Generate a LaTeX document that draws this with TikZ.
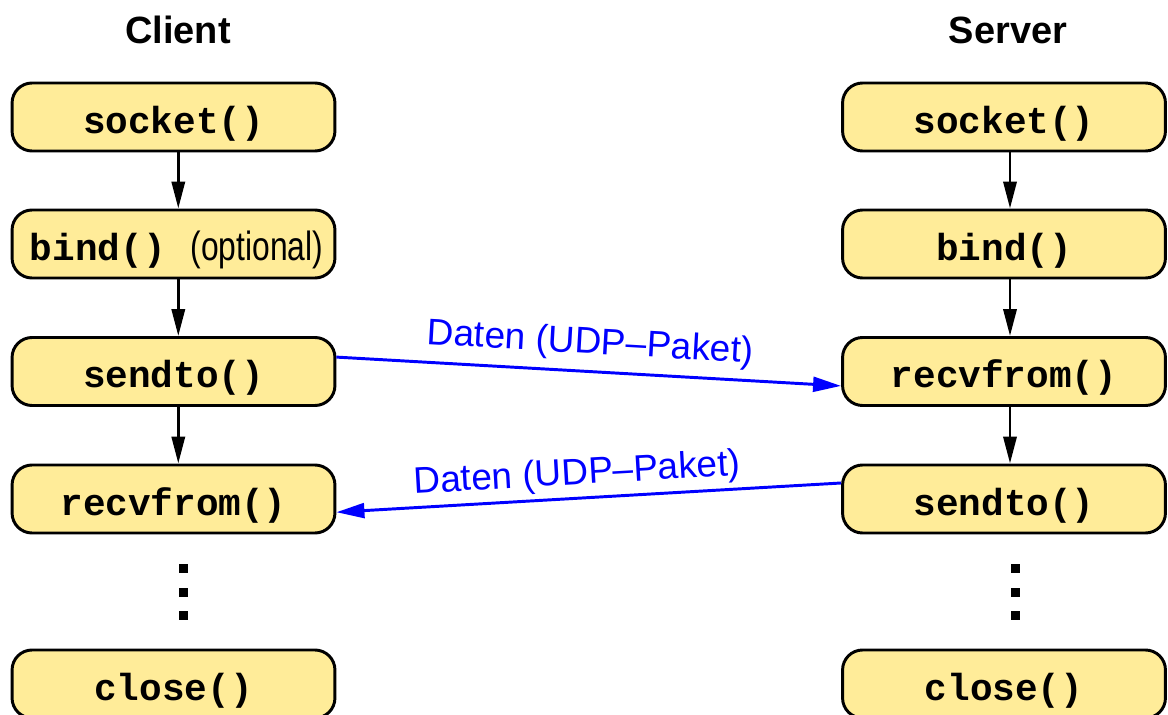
\documentclass[tikz,border=0pt]{standalone}
\usepackage{fontspec}
\usepackage{graphicx}
\setmainfont{Liberation Sans}
\setmonofont{Liberation Mono}
\usetikzlibrary{arrows.meta}

\definecolor{callfill}{RGB}{255,236,153}

\tikzset{
  call/.style={draw=black,line width=2.1pt,rounded corners=0.5cm,fill=callfill,minimum width=8.07cm,minimum height=1.7cm,inner sep=0pt,text height=0.8cm,text depth=0cm,font=\fontsize{26.8}{30}\selectfont\ttfamily\bfseries},
  head/.style={font=\fontsize{27}{30}\selectfont\bfseries},
  flow/.style={line width=2.1pt,-{Triangle[length=0.675cm,width=0.33cm]}},
  packet/.style={line width=2.1pt,blue,-{Triangle[length=0.7cm,width=0.37cm]}},
  pktlabel/.style={blue,sloped,inner sep=0pt,font=\fontsize{26.3}{30}\selectfont},
}

\begin{document}
\begin{tikzpicture}[x=0.025cm,y=-0.025cm]
\clip (0,0) rectangle (1168,715);
\node[head] (chead) at (178,30) {Client};
\node[head] (shead) at (1008,30) {Server};

\node[call] (csock) at (173.5,117) {socket()};
\node[call] (cbind) at (173.5,244) {\hspace{0.15cm}bind()\hspace{0.62cm}{\rmfamily\mdseries\fontsize{29}{30}\selectfont\scalebox{0.78}[1]{(optional)}}};
\node[call] (csend) at (173.5,371.5) {sendto()};
\node[call] (crecv) at (173.5,499) {recvfrom()};
\node[call] (cclose) at (173.5,684) {close()};

\node[call] (ssock) at (1004,117) {socket()};
\node[call] (sbind) at (1004,244) {bind()};
\node[call] (srecv) at (1004,371.5) {recvfrom()};
\node[call] (ssend) at (1004,499) {sendto()};
\node[call] (sclose) at (1004,684) {close()};

\draw[flow] ([xshift=0.12cm]csock.south) -- ([xshift=0.12cm]cbind.north);
\draw[flow] ([xshift=0.12cm]cbind.south) -- ([xshift=0.12cm]csend.north);
\draw[flow] ([xshift=0.12cm]csend.south) -- ([xshift=0.12cm]crecv.north);
\draw[flow] ([xshift=0.15cm]ssock.south) -- ([xshift=0.15cm]sbind.north);
\draw[flow] ([xshift=0.15cm]sbind.south) -- ([xshift=0.15cm]srecv.north);
\draw[flow] ([xshift=0.15cm]srecv.south) -- ([xshift=0.15cm]ssend.north);

\draw[packet] ([yshift=0.36cm]csend.east) -- node[pktlabel,above=0.22cm] {Daten (UDP--Paket)} ([yshift=-0.36cm]srecv.west);
\draw[packet] ([yshift=0.4cm]ssend.west) -- node[pktlabel,above=0.12cm,pos=0.52] {Daten (UDP--Paket)} ([yshift=-0.33cm]crecv.east);

% the skipped calls in between
\foreach \y in {568,592,615} {
  \fill (183,\y) +(-4.5,-4.5) rectangle +(4.5,4.5);
  \fill (1015,\y) +(-4.5,-4.5) rectangle +(4.5,4.5);
}
\end{tikzpicture}
\end{document}
